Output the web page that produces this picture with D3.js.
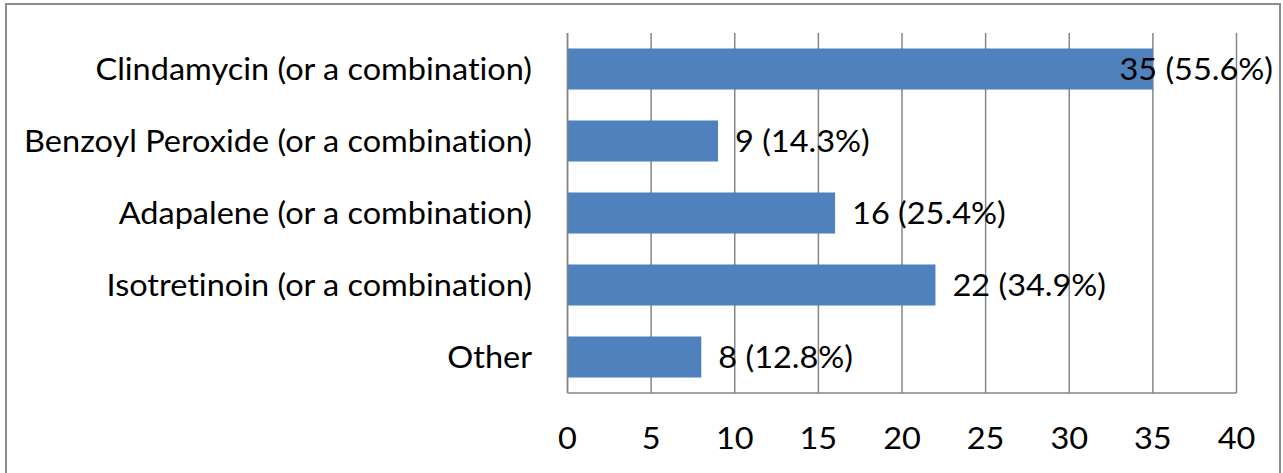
<!DOCTYPE html>
<html>
<head>
<meta charset="utf-8">
<script src="https://cdn.jsdelivr.net/npm/d3@7"></script>
<style>
  html, body { margin: 0; padding: 0; background: #fff; }
  svg { display: block; }
  text { font-family: Lato, "Open Sans", sans-serif; fill: #000; font-variant-ligatures: none; }
</style>
</head>
<body>
<svg id="chart" width="1283" height="473"></svg>
<script>
// Acne treatments prescribed (count and share of patients)
const categories = [
  "Clindamycin (or a combination)",
  "Benzoyl Peroxide (or a combination)",
  "Adapalene (or a combination)",
  "Isotretinoin (or a combination)",
  "Other"
];
const counts = [35, 9, 16, 22, 8];
const percents = ["55.6%", "14.3%", "25.4%", "34.9%", "12.8%"];
const xTicks = [0, 5, 10, 15, 20, 25, 30, 35, 40];

const svg = d3.select("#chart");

// Chart frame
svg.append("rect")
  .attr("x", 6).attr("y", 4)
  .attr("width", 1274).attr("height", 480)
  .attr("fill", "#fff")
  .attr("stroke", "#8c8c8c")
  .attr("stroke-width", 2);

const plot = { left: 567.5, right: 1236.5, top: 33, bottom: 393 };

const x = d3.scaleLinear().domain([0, 40]).range([plot.left, plot.right]);
const y = d3.scaleBand().domain(categories).range([plot.top, plot.bottom])
  .paddingInner(0.43).paddingOuter(0.215);

// Vertical gridlines
svg.append("g").selectAll("line").data(xTicks).join("line")
  .attr("x1", d => x(d)).attr("x2", d => x(d))
  .attr("y1", plot.top).attr("y2", plot.bottom)
  .attr("stroke", "#878787").attr("stroke-width", 1.5);

// Bottom axis line
svg.append("line")
  .attr("x1", plot.left).attr("x2", plot.right)
  .attr("y1", plot.bottom).attr("y2", plot.bottom)
  .attr("stroke", "#878787").attr("stroke-width", 1.5);

// Bars
svg.append("g").selectAll("rect").data(categories).join("rect")
  .attr("x", x(0))
  .attr("y", d => y(d))
  .attr("width", (d, i) => x(counts[i]) - x(0))
  .attr("height", y.bandwidth())
  .attr("fill", "#4F81BD");

// Left axis line drawn over bars
svg.append("line")
  .attr("x1", plot.left).attr("x2", plot.left)
  .attr("y1", plot.top).attr("y2", plot.bottom)
  .attr("stroke", "#878787").attr("stroke-width", 1.5);

// Text is set slightly condensed: tall glyphs, narrow advance
const fs = 31;
const probe = svg.append("text").attr("font-size", fs).text(categories[1]);
const sx = 508 / probe.node().getComputedTextLength();
probe.remove();

function place(sel, xf, yf, anchor) {
  sel.attr("text-anchor", anchor)
    .attr("transform", (d, i) => `translate(${xf(d, i)},${yf(d, i)}) scale(${sx},1)`);
}

// Category labels
const cl = svg.append("g").selectAll("text").data(categories).join("text")
  .attr("font-size", fs)
  .attr("dy", "0.36em")
  .text(d => d);
place(cl, () => 532, d => y(d) + y.bandwidth() / 2, "end");

// Tick labels
const tl = svg.append("g").selectAll("text").data(xTicks).join("text")
  .attr("font-size", fs)
  .text(d => d);
place(tl, d => x(d), () => 449, "middle");

// Value labels, kept inside the chart frame
const chartRight = 1273;
const vl = svg.append("g").selectAll("text").data(categories).join("text")
  .attr("font-size", fs)
  .attr("dy", "0.36em")
  .text((d, i) => `${counts[i]} (${percents[i]})`);
const widths = vl.nodes().map(n => n.getComputedTextLength() * sx);
place(vl, (d, i) => Math.min(x(counts[i]) + 17, chartRight - widths[i]),
  d => y(d) + y.bandwidth() / 2, "start");
</script>
</body>
</html>
